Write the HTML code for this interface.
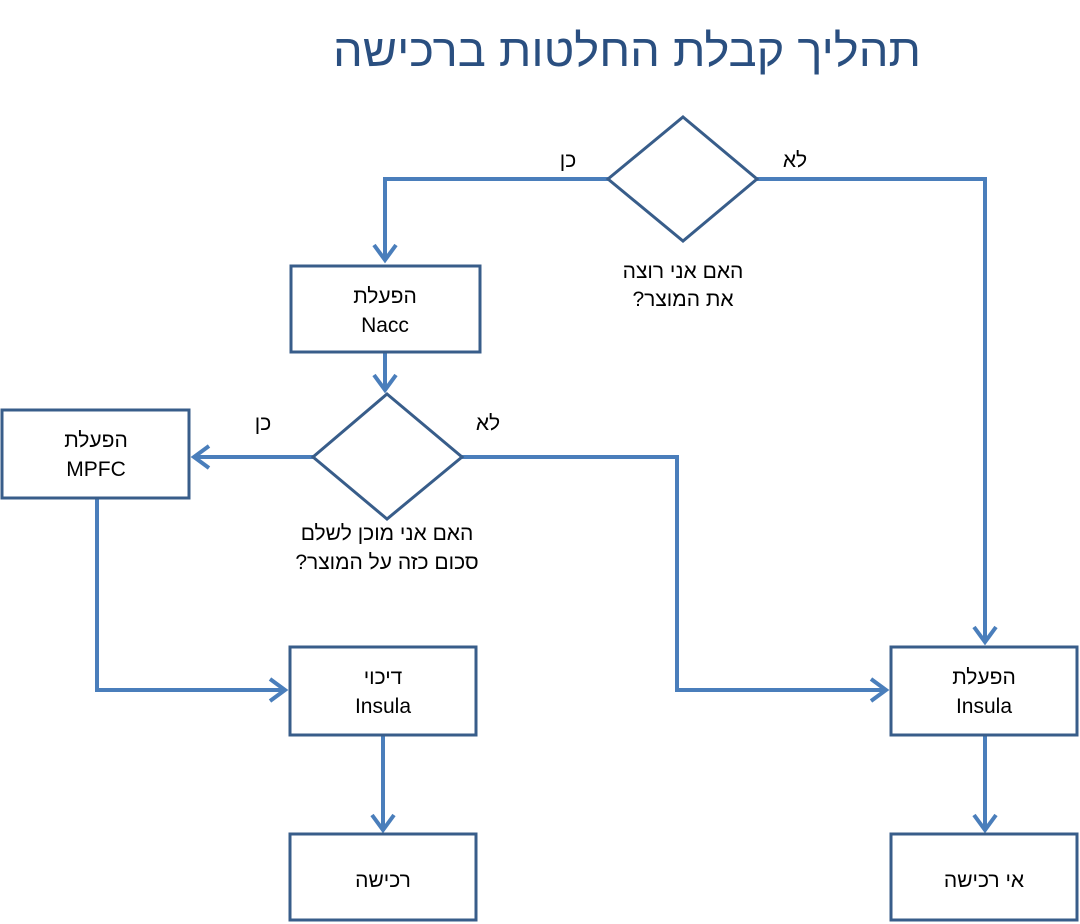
<!DOCTYPE html>
<html><head><meta charset="utf-8"><style>
html,body{margin:0;padding:0;background:#fff;}
svg{display:block;}
text{font-family:"Liberation Sans","DejaVu Sans",sans-serif;}
</style></head><body>
<svg width="1080" height="924" viewBox="0 0 1080 924" xmlns="http://www.w3.org/2000/svg">
<text x="627" y="66" font-size="45" fill="#2a4f80" text-anchor="middle" direction="rtl" textLength="588" lengthAdjust="spacingAndGlyphs">תהליך קבלת החלטות ברכישה</text>
<g fill="none" stroke="#4a7ebb" stroke-width="4">
<polyline points="608,179 385,179 385,260"/>
<polyline points="374,245 385,260 396,245"/>
<polyline points="757,179 985,179 985,642"/>
<polyline points="974,627 985,642 996,627"/>
<polyline points="385,352 385,390"/>
<polyline points="374,375 385,390 396,375"/>
<polyline points="313,457 194,457"/>
<polyline points="209,446 194,457 209,468"/>
<polyline points="462,457 677,457 677,690 886,690"/>
<polyline points="871,679 886,690 871,701"/>
<polyline points="97,498 97,690 285,690"/>
<polyline points="270,679 285,690 270,701"/>
<polyline points="383,735 383,830"/>
<polyline points="372,815 383,830 394,815"/>
<polyline points="985,735 985,830"/>
<polyline points="974,815 985,830 996,815"/>
</g>
<g fill="#fff" stroke="#385d8a" stroke-width="3">
<polygon points="683,117 757,179 683,241 608,179"/>
<polygon points="387,394 462,457 387,519 313,457"/>
<rect x="291" y="266" width="189" height="86"/>
<rect x="2" y="410" width="187" height="88"/>
<rect x="290" y="647" width="186" height="88"/>
<rect x="891" y="647" width="186" height="88"/>
<rect x="290" y="834" width="186" height="86"/>
<rect x="891" y="834" width="186" height="86"/>
</g>
<g font-size="21" fill="#000" text-anchor="middle" direction="rtl">
<text x="568" y="167">כן</text>
<text x="795" y="167">לא</text>
<text x="263" y="430">כן</text>
<text x="488" y="430">לא</text>
<text x="683" y="278">האם אני רוצה</text>
<text x="683" y="306">את המוצר?</text>
<text x="387" y="540">האם אני מוכן לשלם</text>
<text x="387" y="569">סכום כזה על המוצר?</text>
<text x="385" y="303">הפעלת</text>
<text x="385" y="332" direction="ltr">Nacc</text>
<text x="96" y="447">הפעלת</text>
<text x="96" y="476" direction="ltr">MPFC</text>
<text x="383" y="684">דיכוי</text>
<text x="383" y="713" direction="ltr">Insula</text>
<text x="984" y="684">הפעלת</text>
<text x="984" y="713" direction="ltr">Insula</text>
<text x="383" y="887">רכישה</text>
<text x="984" y="887">אי רכישה</text>
</g>
</svg>
</body></html>
